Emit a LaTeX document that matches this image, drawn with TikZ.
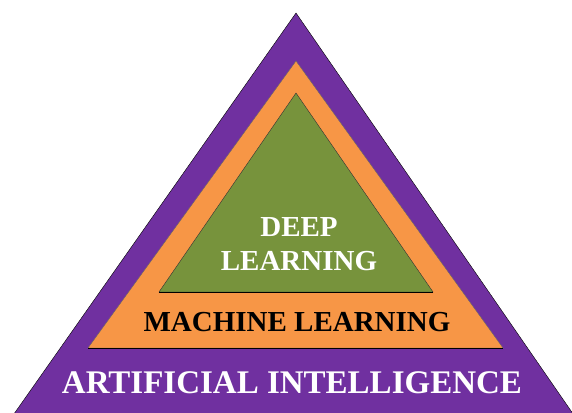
\documentclass[tikz,border=0pt]{standalone}
\usepackage{fontspec}
\setmainfont{Liberation Serif}
\usepackage{tikz}
\definecolor{viola}{HTML}{7030A0}
\definecolor{arancio}{HTML}{F79646}
\definecolor{oliva}{HTML}{77933C}
\tikzset{livello/.style={font=\fontsize{29}{34}\selectfont\bfseries, align=center}}

\begin{document}
\begin{tikzpicture}[x=1pt,y=-1pt]
		\clip (0,0) rectangle (572,412);
		% Intelligenza artificiale
		\draw [fill=viola] (296,13) -- (9,421) -- (578,421) -- cycle;
		% Apprendimento automatico
		\draw [fill=arancio, draw=black!60] (296,61) -- (88,348) -- (503,348) -- cycle;
		\draw [line width=1pt] (88,348) -- (503,348);
		% Apprendimento profondo
		\draw [fill=oliva, draw=black!80] (296,93) -- (159,292) -- (433,292) -- cycle;
		\draw [line width=1pt] (159,292) -- (433,292);
		% Etichette
		\node [livello, text=white, font=\fontsize{33}{34}\selectfont\bfseries] (ai) at (292,383) {ARTIFICIAL INTELLIGENCE};
		\node [livello, text=black] (ml) at (297,322) {MACHINE LEARNING};
		\node [livello, text=white] (dl) at (299,244) {DEEP\\LEARNING};
	\end{tikzpicture}
\end{document}
